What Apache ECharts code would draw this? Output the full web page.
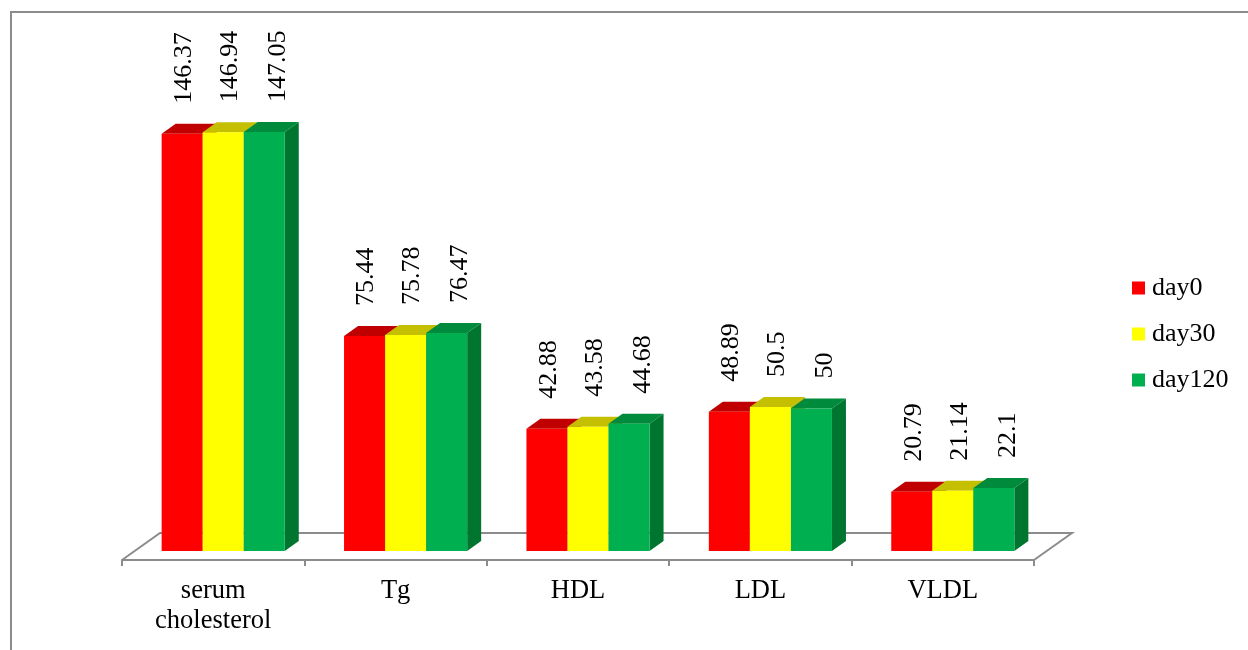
<!DOCTYPE html>
<html>
<head>
<meta charset="utf-8">
<script src="https://cdn.jsdelivr.net/npm/echarts@6/dist/echarts.min.js"></script>
<style>
  html, body { margin: 0; padding: 0; background: #fff; }
  #chart { width: 1248px; height: 650px; }
</style>
</head>
<body>
<div id="chart"></div>
<script>
const categories = ['serum\ncholesterol', 'Tg', 'HDL', 'LDL', 'VLDL'];
const day0 = [146.37, 75.44, 42.88, 48.89, 20.79];
const day30 = [146.94, 75.78, 43.58, 50.5, 21.14];
const day120 = [147.05, 76.47, 44.68, 50, 22.1];
const seriesNames = ['day0', 'day30', 'day120'];

// front / top / side colours for the 3d look
const faceColors = [
  ['#ff0000', '#c00000', '#a00000'],
  ['#ffff00', '#c4c000', '#a8a800'],
  ['#00b050', '#008a3c', '#007530']
];

const font = 'Liberation Serif, Times New Roman, serif';
const chart = echarts.init(document.getElementById('chart'));

// pixel offsets of the fake depth
const barShiftX = 10, barShiftY = -9;
const depthX = 14, depthY = -10;
const floorX = 38, floorY = -27;
// labels drift right a bit more for each series, like excel does
const labelShift = [2, 7, 14];

function barRenderer(s) {
  return function (params, api) {
    const i = api.value(0);
    const v = api.value(1);
    const base = api.coord([i, 0]);
    const top = api.coord([i, v]);
    const band = api.size([1, 0])[0];
    const w = band * 0.225;
    const x0 = base[0] - w * 1.5 + barShiftX + s * w;
    const x1 = x0 + w;
    const yb = base[1] + barShiftY;
    const yt = top[1] + barShiftY;
    const c = faceColors[s];
    return {
      type: 'group',
      children: [
        {
          type: 'polygon',
          shape: { points: [[x1, yt], [x1 + depthX, yt + depthY], [x1 + depthX, yb + depthY], [x1, yb]] },
          style: { fill: c[2] }
        },
        {
          type: 'polygon',
          shape: { points: [[x0, yt], [x0 + depthX, yt + depthY], [x1 + depthX, yt + depthY], [x1, yt]] },
          style: { fill: c[1] }
        },
        {
          type: 'rect',
          shape: { x: x0, y: yt, width: w, height: yb - yt },
          style: { fill: c[0] }
        },
        {
          type: 'text',
          x: (x0 + x1) / 2 + labelShift[s],
          y: yt - 30,
          rotation: Math.PI / 2,
          style: {
            text: String(v),
            fill: '#000',
            font: '26px ' + font,
            align: 'left',
            verticalAlign: 'middle'
          }
        }
      ]
    };
  };
}

const seriesData = [day0, day30, day120];

const option = {
  animation: false,
  backgroundColor: '#fff',
  graphic: [
    {
      type: 'rect',
      shape: { x: 11, y: 12, width: 1400, height: 800 },
      style: { fill: 'none', stroke: '#8c8c8c', lineWidth: 2 },
      silent: true
    }
  ],
  legend: {
    data: seriesNames,
    orient: 'vertical',
    left: 1132,
    top: 274,
    padding: 0,
    icon: 'rect',
    itemWidth: 13,
    itemHeight: 13,
    itemGap: 18,
    textStyle: { fontFamily: font, fontSize: 26, color: '#000', lineHeight: 28, padding: [0, 0, 0, 2] }
  },
  grid: { left: 122, right: 214, top: 104, bottom: 90, containLabel: false },
  xAxis: {
    type: 'category',
    data: categories,
    axisLine: { show: true, lineStyle: { color: '#8c8c8c', width: 2 } },
    axisTick: { show: true, length: 6, lineStyle: { color: '#8c8c8c', width: 2 } },
    axisLabel: {
      margin: 16,
      fontFamily: font,
      fontSize: 26.5,
      lineHeight: 30,
      color: '#000'
    }
  },
  yAxis: {
    type: 'value',
    min: 0,
    max: 160,
    show: false
  },
  series: [
    {
      type: 'custom',
      name: 'floor',
      silent: true,
      z: 1,
      data: [[0, 0]],
      renderItem: function (params, api) {
        const cs = params.coordSys;
        const yf = cs.y + cs.height;
        return {
          type: 'polyline',
          shape: {
            points: [
              [cs.x, yf],
              [cs.x + floorX, yf + floorY],
              [cs.x + cs.width + floorX, yf + floorY],
              [cs.x + cs.width, yf]
            ]
          },
          style: { stroke: '#8c8c8c', lineWidth: 2, fill: null }
        };
      }
    }
  ].concat(seriesNames.map(function (name, s) {
    return {
      type: 'custom',
      name: name,
      z: 2 + s,
      itemStyle: { color: faceColors[s][0] },
      encode: { x: 0, y: 1 },
      data: seriesData[s].map(function (v, i) { return [i, v]; }),
      renderItem: barRenderer(s)
    };
  }))
};

chart.setOption(option);
</script>
</body>
</html>
